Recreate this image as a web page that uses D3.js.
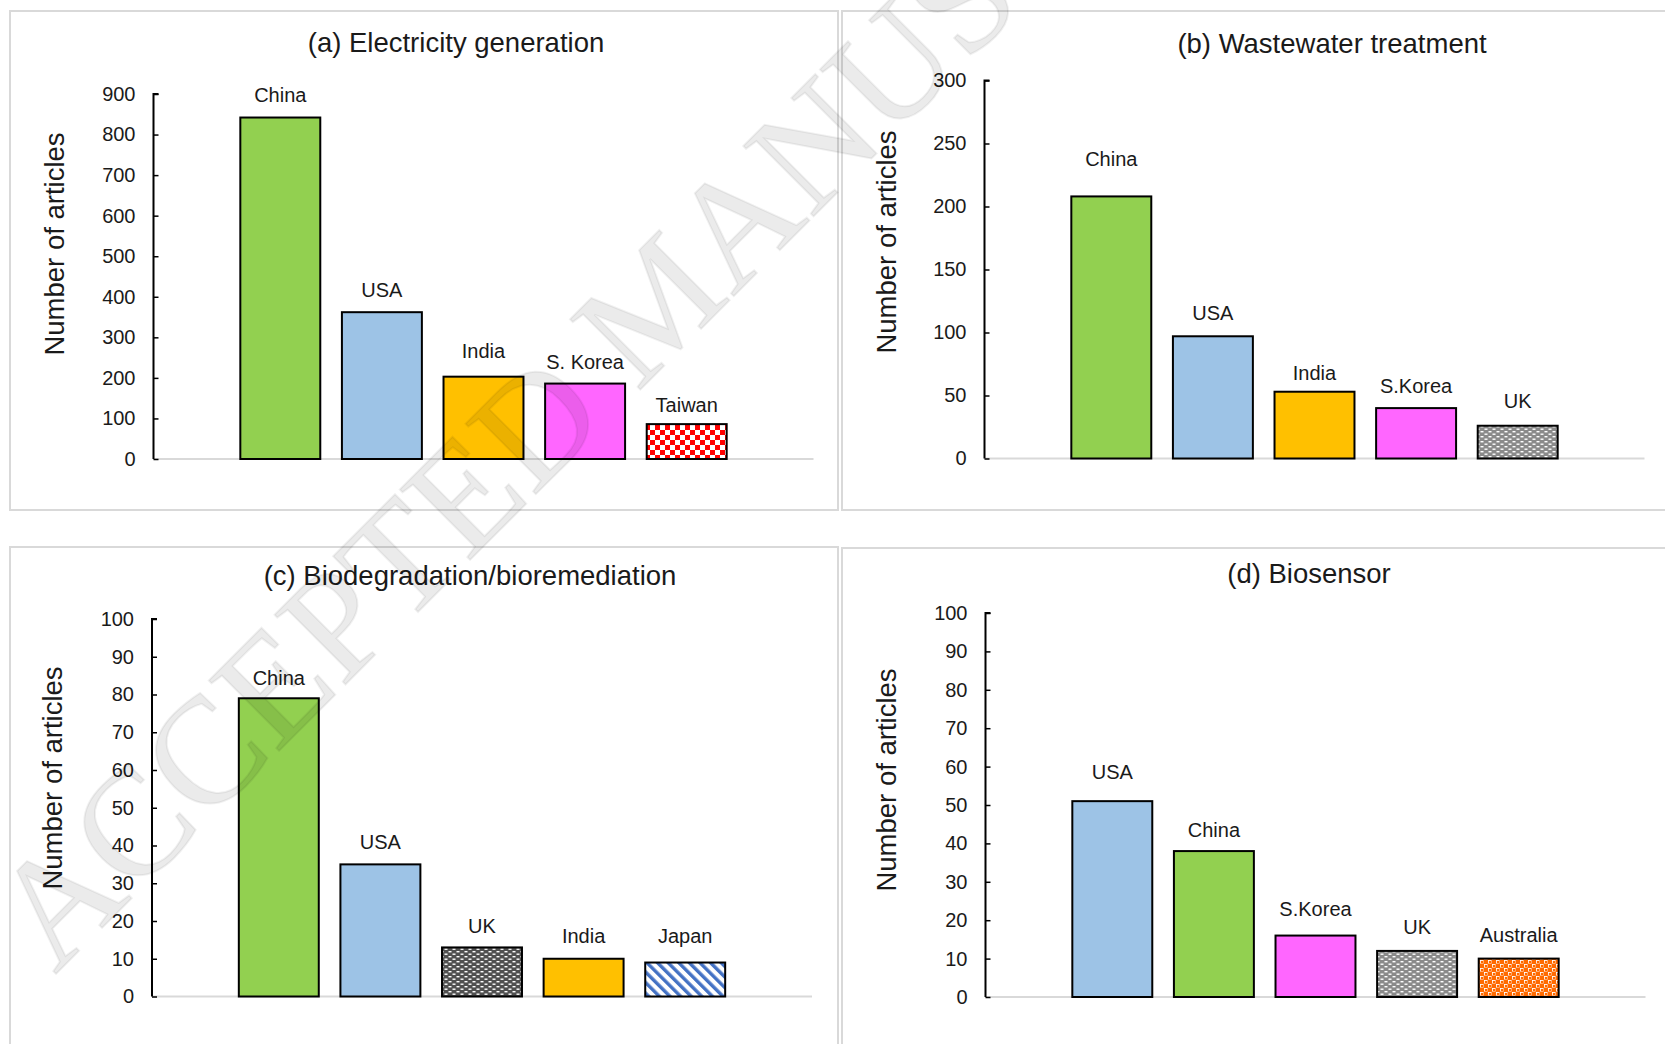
<!DOCTYPE html>
<html>
<head>
<meta charset="utf-8">
<script src="https://cdn.jsdelivr.net/npm/d3@7"></script>
<style>
  body { margin: 0; background: #fff; }
  text { font-family: "Liberation Sans", Arial, sans-serif; fill: #1a1a1a; }
</style>
</head>
<body>
<div id="chart"></div>
<script>
// data
var catsA = ["China", "USA", "India", "S. Korea", "Taiwan"];
var valsA = [842, 362, 203, 186, 86];
var catsB = ["China", "USA", "India", "S.Korea", "UK"];
var valsB = [208, 97, 53, 40, 26];
var catsC = ["China", "USA", "UK", "India", "Japan"];
var valsC = [79, 35, 13, 10, 9];
var catsD = ["USA", "China", "S.Korea", "UK", "Australia"];
var valsD = [51, 38, 16, 12, 10];

var ticksA = d3.range(0, 901, 100);
var ticksB = d3.range(0, 301, 50);
var ticksC = d3.range(0, 101, 10);
var ticksD = d3.range(0, 101, 10);

var width = 1665, height = 1044;

var svg = d3.select("#chart").append("svg")
    .attr("width", width)
    .attr("height", height);

var defs = svg.append("defs");

// fill patterns like the excel ones
var p = defs.append("pattern").attr("id", "checkRed")
    .attr("patternUnits", "userSpaceOnUse").attr("width", 10).attr("height", 10);
p.append("rect").attr("width", 10).attr("height", 10).attr("fill", "#fff");
p.append("rect").attr("width", 5).attr("height", 5).attr("fill", "#ff0000");
p.append("rect").attr("x", 5).attr("y", 5).attr("width", 5).attr("height", 5).attr("fill", "#ff0000");

function dotGrid(id, bg) {
  var g = defs.append("pattern").attr("id", id)
      .attr("patternUnits", "userSpaceOnUse").attr("width", 8).attr("height", 5);
  g.append("rect").attr("width", 8).attr("height", 5).attr("fill", bg);
  g.append("rect").attr("x", 0.5).attr("y", 1).attr("width", 3).attr("height", 1.4).attr("fill", "#fff");
  g.append("rect").attr("x", 4.5).attr("y", 3.5).attr("width", 3).attr("height", 1.4).attr("fill", "#fff");
}
dotGrid("gridGray", "#8a8a8a");
dotGrid("gridDark", "#505050");

p = defs.append("pattern").attr("id", "stripeBlue")
    .attr("patternUnits", "userSpaceOnUse").attr("width", 7.5).attr("height", 8)
    .attr("patternTransform", "rotate(-45)");
p.append("rect").attr("width", 7.5).attr("height", 8).attr("fill", "#fff");
p.append("rect").attr("width", 3.4).attr("height", 8).attr("fill", "#4472c4");

p = defs.append("pattern").attr("id", "dotsOrange")
    .attr("patternUnits", "userSpaceOnUse").attr("width", 8).attr("height", 8);
p.append("rect").attr("width", 8).attr("height", 8).attr("fill", "#ff6a00");
p.append("rect").attr("x", 0).attr("y", 0).attr("width", 3.5).attr("height", 3.5).attr("fill", "#fff");
p.append("rect").attr("x", 4).attr("y", 4).attr("width", 3.5).attr("height", 3.5).attr("fill", "#fff");
p.append("circle").attr("cx", 2).attr("cy", 2).attr("r", 1.3).attr("fill", "#ff6a00");
p.append("circle").attr("cx", 6).attr("cy", 6).attr("r", 1.3).attr("fill", "#ff6a00");

var fillsA = ["#92d050", "#9dc3e6", "#ffc000", "#ff66ff", "url(#checkRed)"];
var fillsB = ["#92d050", "#9dc3e6", "#ffc000", "#ff66ff", "url(#gridGray)"];
var fillsC = ["#92d050", "#9dc3e6", "url(#gridDark)", "#ffc000", "url(#stripeBlue)"];
var fillsD = ["#9dc3e6", "#92d050", "#ff66ff", "url(#gridGray)", "url(#dotsOrange)"];

// label distance above bar top (baseline), px
var gapsA = [15.5, 15.5, 18.5, 14.5, 12];
var gapsB = [30, 16.5, 12, 15.5, 17.5];
var gapsC = [13.5, 15.5, 14.5, 15.5, 19.5];
var gapsD = [22, 14.5, 19.5, 16.5, 16.5];

var panels = [
  {title: "(a) Electricity generation", cats: catsA, vals: valsA, ticks: ticksA, fills: fillsA, gaps: gapsA,
   box: [10, 11, 828, 499], axisX: 153.5, y0: 459, yTop: 94, tx: 456, ty: 52, ax: 55, ay: 244},
  {title: "(b) Wastewater treatment", cats: catsB, vals: valsB, ticks: ticksB, fills: fillsB, gaps: gapsB,
   box: [842, 11, 830, 499], axisX: 984.5, y0: 458.5, yTop: 80.5, tx: 1332, ty: 53, ax: 887, ay: 242},
  {title: "(c) Biodegradation/bioremediation", cats: catsC, vals: valsC, ticks: ticksC, fills: fillsC, gaps: gapsC,
   box: [10, 547, 828, 510], axisX: 152, y0: 996.5, yTop: 619, tx: 470, ty: 585, ax: 53, ay: 778},
  {title: "(d) Biosensor", cats: catsD, vals: valsD, ticks: ticksD, fills: fillsD, gaps: gapsD,
   box: [842, 548, 830, 510], axisX: 985.5, y0: 997, yTop: 613, tx: 1309, ty: 583, ax: 887, ay: 780}
];

panels.forEach(function(d) {
  var g = svg.append("g");

  g.append("rect")
      .attr("x", d.box[0]).attr("y", d.box[1])
      .attr("width", d.box[2]).attr("height", d.box[3])
      .attr("fill", "none").attr("stroke", "#d9d9d9").attr("stroke-width", 2);

  var y = d3.scaleLinear()
      .domain([0, d3.max(d.ticks)])
      .range([d.y0, d.yTop]);

  var x = d3.scaleBand()
      .domain(d.cats)
      .range([d.axisX + 76, d.axisX + 76 + 508])
      .paddingInner(0.213)
      .paddingOuter(0.1065);

  // category baseline
  g.append("line")
      .attr("x1", d.axisX).attr("x2", d.axisX + 660)
      .attr("y1", d.y0).attr("y2", d.y0)
      .attr("stroke", "#d9d9d9").attr("stroke-width", 2);

  var yAxis = d3.axisRight(y)
      .tickValues(d.ticks)
      .tickSize(5)
      .tickFormat(d3.format("d"));

  var ax = g.append("g")
      .attr("transform", "translate(" + d.axisX + ",0)")
      .call(yAxis);
  ax.select(".domain").attr("stroke", "#000").attr("stroke-width", 2)
      .attr("d", "M5," + y.range()[1] + "H0V" + y.range()[0]);
  ax.selectAll(".tick line").attr("stroke", "#000").attr("stroke-width", 1.5);
  ax.selectAll(".tick text")
      .attr("x", -18).attr("text-anchor", "end")
      .style("font-size", "20px").attr("fill", "#1a1a1a");

  g.selectAll(".bar")
      .data(d.vals)
      .enter().append("rect")
      .attr("x", function(v, i) { return x(d.cats[i]); })
      .attr("y", function(v) { return y(v); })
      .attr("width", x.bandwidth())
      .attr("height", function(v) { return y(0) - y(v); })
      .attr("fill", function(v, i) { return d.fills[i]; })
      .attr("stroke", "#000").attr("stroke-width", 2);

  g.selectAll(".lbl")
      .data(d.vals)
      .enter().append("text")
      .attr("x", function(v, i) { return x(d.cats[i]) + x.bandwidth() / 2; })
      .attr("y", function(v, i) { return y(v) - d.gaps[i]; })
      .attr("text-anchor", "middle")
      .style("font-size", "20px")
      .text(function(v, i) { return d.cats[i]; });

  g.append("text")
      .attr("x", d.tx).attr("y", d.ty)
      .attr("text-anchor", "middle")
      .style("font-size", "27.5px")
      .text(d.title);

  g.append("text")
      .attr("transform", "translate(" + (d.ax + 9) + "," + d.ay + ") rotate(-90)")
      .attr("text-anchor", "middle")
      .style("font-size", "27.5px")
      .text("Number of articles");
});

// watermark
svg.append("text")
    .attr("transform", "translate(55,975) rotate(-45)")
    .style("font-family", "'Liberation Serif', 'Times New Roman', serif")
    .style("font-size", "152px")
    .style("fill", "#000")
    .style("fill-opacity", 0.08)
    .style("stroke", "#000")
    .style("stroke-opacity", 0.06)
    .style("stroke-width", 2)
    .text("ACCEPTED MANUSCRIPT");
</script>
</body>
</html>
